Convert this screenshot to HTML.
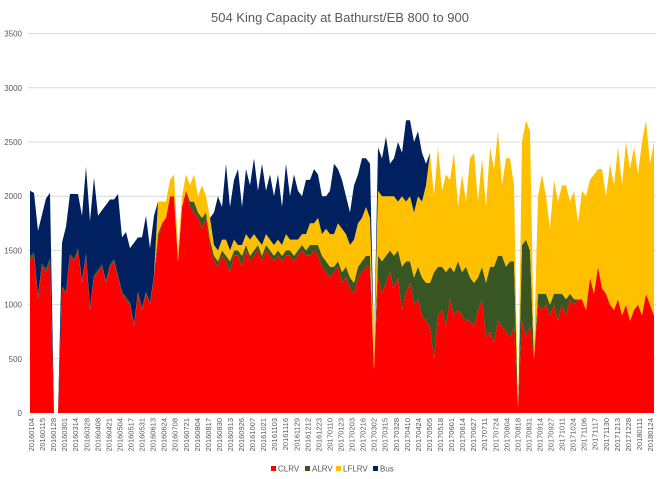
<!DOCTYPE html>
<html><head><meta charset="utf-8">
<style>
html,body{margin:0;padding:0;background:#fff;}
svg{display:block;font-family:"Liberation Sans",sans-serif;}
</style></head>
<body>
<svg id="chart" width="660" height="479" viewBox="0 0 660 479" xmlns="http://www.w3.org/2000/svg">
<text x="340" y="22" text-anchor="middle" font-size="13" fill="#595959">504 King Capacity at Bathurst/EB 800 to 900</text>
<g id="grid"></g><g id="areas"></g><g id="yticks"></g><g id="xticks"></g>
<g id="legend"></g>
</svg>
<script>
const seriesNames = ["CLRV","ALRV","LFLRV","Bus"];
const seriesColors = ["#ff0000","#375623","#ffc000","#002060"];
const yTicks = [0,500,1000,1500,2000,2500,3000,3500];
const xLabels = ["20160104","20160115","20160128","20160301","20160314","20160328","20160408","20160421","20160504","20160517","20160531","20160613","20160624","20160708","20160721","20160804","20160817","20160830","20160913","20160926","20161007","20161021","20161103","20161116","20161129","20161212","20161223","20170110","20170123","20170203","20170216","20170302","20170315","20170328","20170410","20170424","20170505","20170518","20170601","20170614","20170627","20170711","20170724","20170804","20170818","20170831","20170914","20170927","20171011","20171024","20171106","20171117","20171130","20171213","20171228","20180111","20180124"];
const clrv = [1420,1450,1050,1350,1300,1400,0,0,1150,1100,1450,1400,1500,1200,1450,950,1250,1300,1350,1200,1350,1400,1250,1100,1050,1000,800,1100,950,1100,1000,1250,
1600,1750,1800,2000,2000,1400,1900,2050,1900,1850,1800,1700,1800,1550,1400,1350,
1450,1400,1300,1450,1450,1350,1500,1400,1450,1500,1400,1500,1450,1400,1450,1400,1450,1450,1400,1450,1500,1450,1450,1500,1450,1350,1300,1250,1300,1350,1200,1250,1150,1100,1250,1300,1350,1350,400,
1250,1100,1200,1300,1150,1250,950,1100,1200,1000,1050,900,850,800,
500,900,950,800,1050,900,950,900,850,850,800,950,1050,700,750,650,850,800,750,700,800,50,850,700,800,500,
1000,950,1000,900,1000,850,1000,900,1050,1000,1050,1050,950,1250,1100,1350,1150,1100,1000,950,1050,900,1000,850,950,1000,900,1100,1000,900];
const alrv = [30,30,30,30,30,30,0,0,20,20,20,20,20,20,20,20,20,20,20,20,20,20,20,20,20,20,20,20,20,20,20,20,
50,0,0,0,0,0,0,0,50,100,50,100,50,50,50,50,
50,50,100,50,50,100,50,50,50,50,50,50,50,50,50,50,50,50,50,50,50,50,100,50,100,100,100,100,50,50,100,100,100,100,100,100,100,100,0,
200,300,250,200,300,250,400,300,200,250,300,350,350,400,
800,450,400,500,300,400,450,400,500,400,400,300,300,500,600,700,600,650,600,700,600,0,700,900,700,0,
100,150,100,100,100,250,100,150,50,50,0,0,0,0,0,0,0,0,0,0,0,0,0,0,0,0,0,0,0,0];
const lflrv = [0,0,0,0,0,0,0,0,0,0,0,0,0,0,0,0,0,0,0,0,0,0,0,0,0,0,0,0,0,0,0,0,
300,200,150,150,200,100,100,150,150,250,150,300,150,200,100,100,
100,150,100,100,50,100,100,150,150,50,100,100,100,100,100,100,150,100,150,100,100,150,200,200,250,200,300,300,300,350,400,300,300,400,400,400,450,350,200,
600,600,550,500,550,450,650,550,600,600,650,700,900,1200,
700,1100,700,900,800,1100,500,900,600,1100,1200,700,1000,700,1100,900,1150,650,1000,950,700,0,950,1100,1100,100,
900,1100,900,700,1050,850,1000,1050,850,1000,700,1000,1050,900,1100,900,1100,900,1300,1150,1400,1200,1500,1400,1500,1200,1600,1600,1300,1600];
const bus = [600,550,600,450,650,600,0,0,400,600,550,600,500,600,800,800,900,500,500,700,600,550,750,500,600,500,750,500,650,700,500,550,
0,0,0,0,0,0,0,0,0,0,0,0,0,0,300,500,
300,700,400,550,700,350,600,500,700,450,750,400,600,450,600,350,650,400,600,450,350,500,400,500,400,350,300,400,650,500,450,350,300,500,450,550,450,500,0,
400,350,550,300,350,550,400,750,700,650,600,450,200,0,
0,0,0,0,0,0,0,0,0,0,0,0,0,0,0,0,0,0,0,0,0,0,0,0,0,0,
0,0,0,0,0,0,0,0,0,0,0,0,0,0,0,0,0,0,0,0,0,0,0,0,0,0,0,0,0,0];

const NS="http://www.w3.org/2000/svg";
const plotL=30, plotR=654, y0=413, pxPerUnit=379.4/3500;
function yOf(v){return y0 - v*pxPerUnit;}
function xOf(i,n){return plotL + i*(plotR-plotL)/(n-1);}
function mk(tag,attrs,parent){const e=document.createElementNS(NS,tag);for(const k in attrs)e.setAttribute(k,attrs[k]);parent.appendChild(e);return e;}

const grid=document.getElementById('grid'), yt=document.getElementById('yticks');
yTicks.forEach(v=>{
  if(v>0){const l=mk('line',{x1:28,x2:656,y1:yOf(v),y2:yOf(v),stroke:'#d9d9d9','stroke-width':1},grid);
  
  }
  const t=mk('text',{x:22,y:yOf(v)+3,'text-anchor':'end','font-size':8,fill:'#595959'},yt);
  t.textContent=v;
  
  
});

const series=[clrv,alrv,lflrv,bus];
const n=clrv.length;
const areas=document.getElementById('areas');
const base=new Array(n).fill(0);
series.forEach((s,si)=>{
  const top=base.map((b,i)=>b+s[i]);
  let pts=[];
  for(let i=0;i<n;i++)pts.push(xOf(i,n).toFixed(1)+','+yOf(top[i]).toFixed(1));
  for(let i=n-1;i>=0;i--)pts.push(xOf(i,n).toFixed(1)+','+yOf(base[i]).toFixed(1));
  const p=mk('polygon',{points:pts.join(' '),fill:seriesColors[si]},areas);
  
  
  for(let i=0;i<n;i++)base[i]=top[i];
});

const xt=document.getElementById('xticks');
xLabels.forEach((lab,k)=>{
  const x=31+k*(650-31)/(xLabels.length-1);
  const t=mk('text',{x:0,y:0,transform:`translate(${x+3},418) rotate(-90)`,'text-anchor':'end','font-size':7.5,fill:'#595959'},xt);
  t.textContent=lab;
  
  
});

const lg=document.getElementById('legend');
const lx=[273,307,338,375];
seriesNames.forEach((nm,i)=>{
  const r=mk('rect',{x:lx[i]-2,y:466,width:5,height:5,fill:seriesColors[i]},lg);
  
  
  const t=mk('text',{x:lx[i]+5,y:471.5,'font-size':8,fill:'#595959'},lg);
  t.textContent=nm;
  
  
});
</script>
</body></html>
